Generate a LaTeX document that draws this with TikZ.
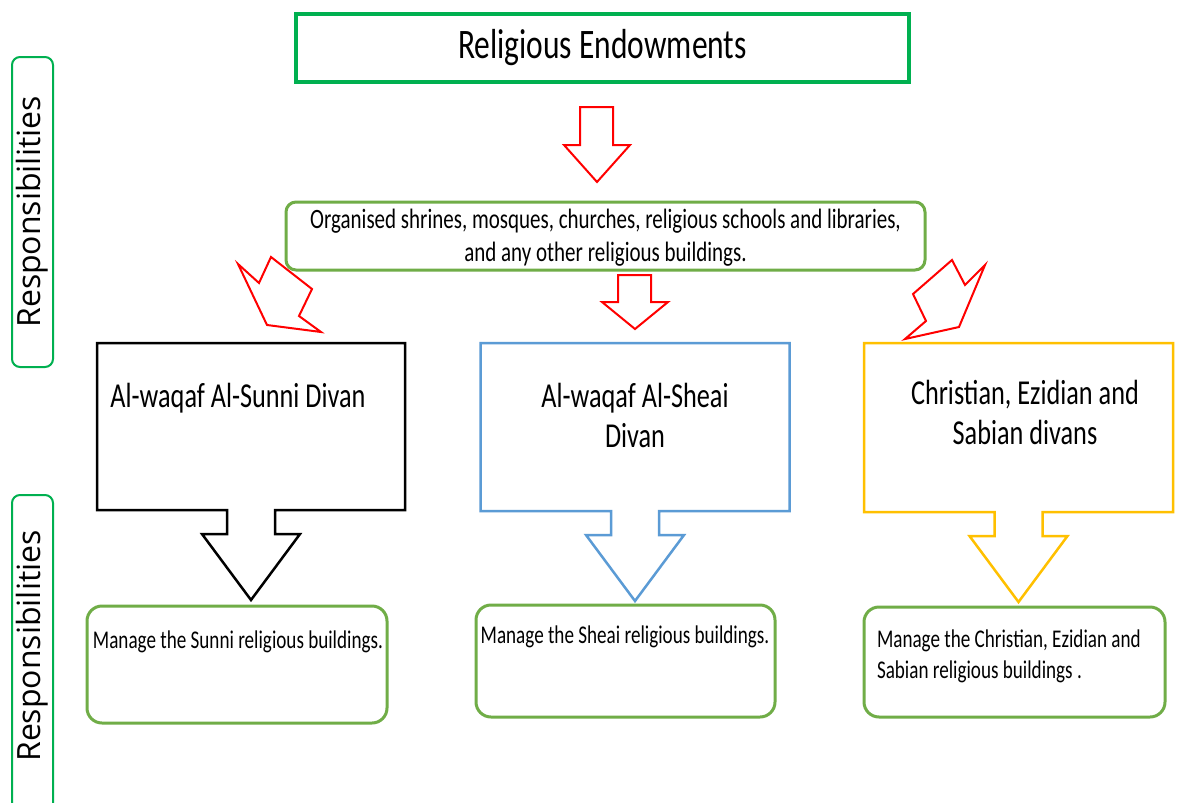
\documentclass[tikz,border=0pt]{standalone}
\usepackage{fontspec}
\usetikzlibrary{calc}
\setmainfont{Carlito}[FakeStretch=0.75]
\newfontfamily\sidefont{Open Sans}
\definecolor{topgreen}{HTML}{00B050}
\definecolor{boxgreen}{HTML}{70AD47}
\definecolor{arrowred}{HTML}{FF0000}
\definecolor{sheaiblue}{HTML}{5B9BD5}
\definecolor{gold}{HTML}{FFC000}

% box with a block arrow hanging from the middle of its lower edge
\newcommand\downcallout[2]{%
  \draw[#2] (#1.north west) -- (#1.north east) -- (#1.south east)
    -- ($(#1.south)+(24,0)$) -- ++(0,24) -- ++(25,0)
    -- ($(#1.south)+(0,90)$)
    -- ($(#1.south)+(-49,24)$) -- ++(25,0)
    -- ($(#1.south)+(-24,0)$) -- (#1.south west) -- cycle;}

\begin{document}
\begin{tikzpicture}[x=1pt,y=-1pt,
  every node/.style={outer sep=0pt, inner sep=0pt},
  frame/.style={rectangle, minimum width=#1},
  sidebox/.style={draw=topgreen, line width=2, rounded corners=8},
  sidetext/.style={rotate=90, font=\sidefont\fontsize{32}{36}\selectfont},
  taskbox/.style={draw=boxgreen, line width=3, rounded corners=15},
  tasktext/.style={font=\fontsize{25.5}{31}\selectfont, align=left},
  headtext/.style={font=\fontsize{35}{40}\selectfont, align=center},
  redarrow/.style={draw=arrowred, line width=2, line join=miter},
]
\clip (0,0) rectangle (1178,803);
\fill[white] (0,0) rectangle (1178,803);

% side labels
\node[sidebox, minimum width=41, minimum height=310] (resp1) at (32.5,212) {};
\node[sidetext] (resp1text) at (resp1) {Responsibilities};
\node[sidebox, minimum width=41, minimum height=340] (resp2) at (32.5,665) {};
\node[sidetext] (resp2text) at (32.5,646) {Responsibilities};

% title
\node[draw=topgreen, line width=4, minimum width=613, minimum height=68,
      font=\fontsize{42}{48}\selectfont] (title) at (602.5,48) {Religious Endowments};

% scope of the endowments
\node[draw=boxgreen, line width=3, rounded corners=10, minimum width=639,
      minimum height=68] (scope) at (605.5,236) {};
\node[font=\fontsize{28}{33}\selectfont, align=center] (scopetext) at (605.5,238)
  {Organised shrines, mosques, churches, religious schools and libraries,\\
   and any other religious buildings.};

% red block arrows
\draw[redarrow] (580,107) -- (613,107) -- (613,145) -- (630,145) -- (597,182)
  -- (564,145) -- (580,145) -- cycle;
\draw[redarrow] (618,275) -- (651,275) -- (651,302) -- (668,302) -- (635,329)
  -- (602,302) -- (618,302) -- cycle;
\draw[redarrow] (238,264) -- (259,283) -- (271,257) -- (312,289) -- (299,316)
  -- (321,332) -- (267,325) -- cycle;
\draw[redarrow] (952,260) -- (965,285) -- (985,265) -- (959,327) -- (905,339)
  -- (926,321) -- (913,294) -- cycle;

% the three divans
\node[frame=308, minimum height=167] (sunni) at (251,426.5) {};
\downcallout{sunni}{black, line width=2.5}
\node[headtext] (sunnitext) at (238,398) {Al-waqaf Al-Sunni Divan};

\node[frame=309, minimum height=168] (sheai) at (635,427) {};
\downcallout{sheai}{sheaiblue, line width=2.5}
\node[headtext] (sheaitext) at (635,415) {Al-waqaf Al-Sheai\\Divan};

\node[frame=309, minimum height=169] (chr) at (1018.5,427.5) {};
\downcallout{chr}{gold, line width=2.5}
\node[headtext] (chrtext) at (1025,412) {Christian, Ezidian and\\Sabian divans};

% their responsibilities
\node[taskbox, minimum width=300, minimum height=117] (sunnitask) at (237,664.5) {};
\node[tasktext] (sunnitasktext) at (238,642) {Manage the Sunni religious buildings.};

\node[taskbox, minimum width=299, minimum height=112] (sheaitask) at (625.5,661) {};
\node[tasktext] (sheaitasktext) at (625,637) {Manage the Sheai religious buildings.};

\node[taskbox, minimum width=301, minimum height=110] (chrtask) at (1014.5,662) {};
\node[tasktext, anchor=west] (chrtasktext) at (877,656)
  {Manage the Christian, Ezidian and\\Sabian religious buildings .};
\end{tikzpicture}
\end{document}
